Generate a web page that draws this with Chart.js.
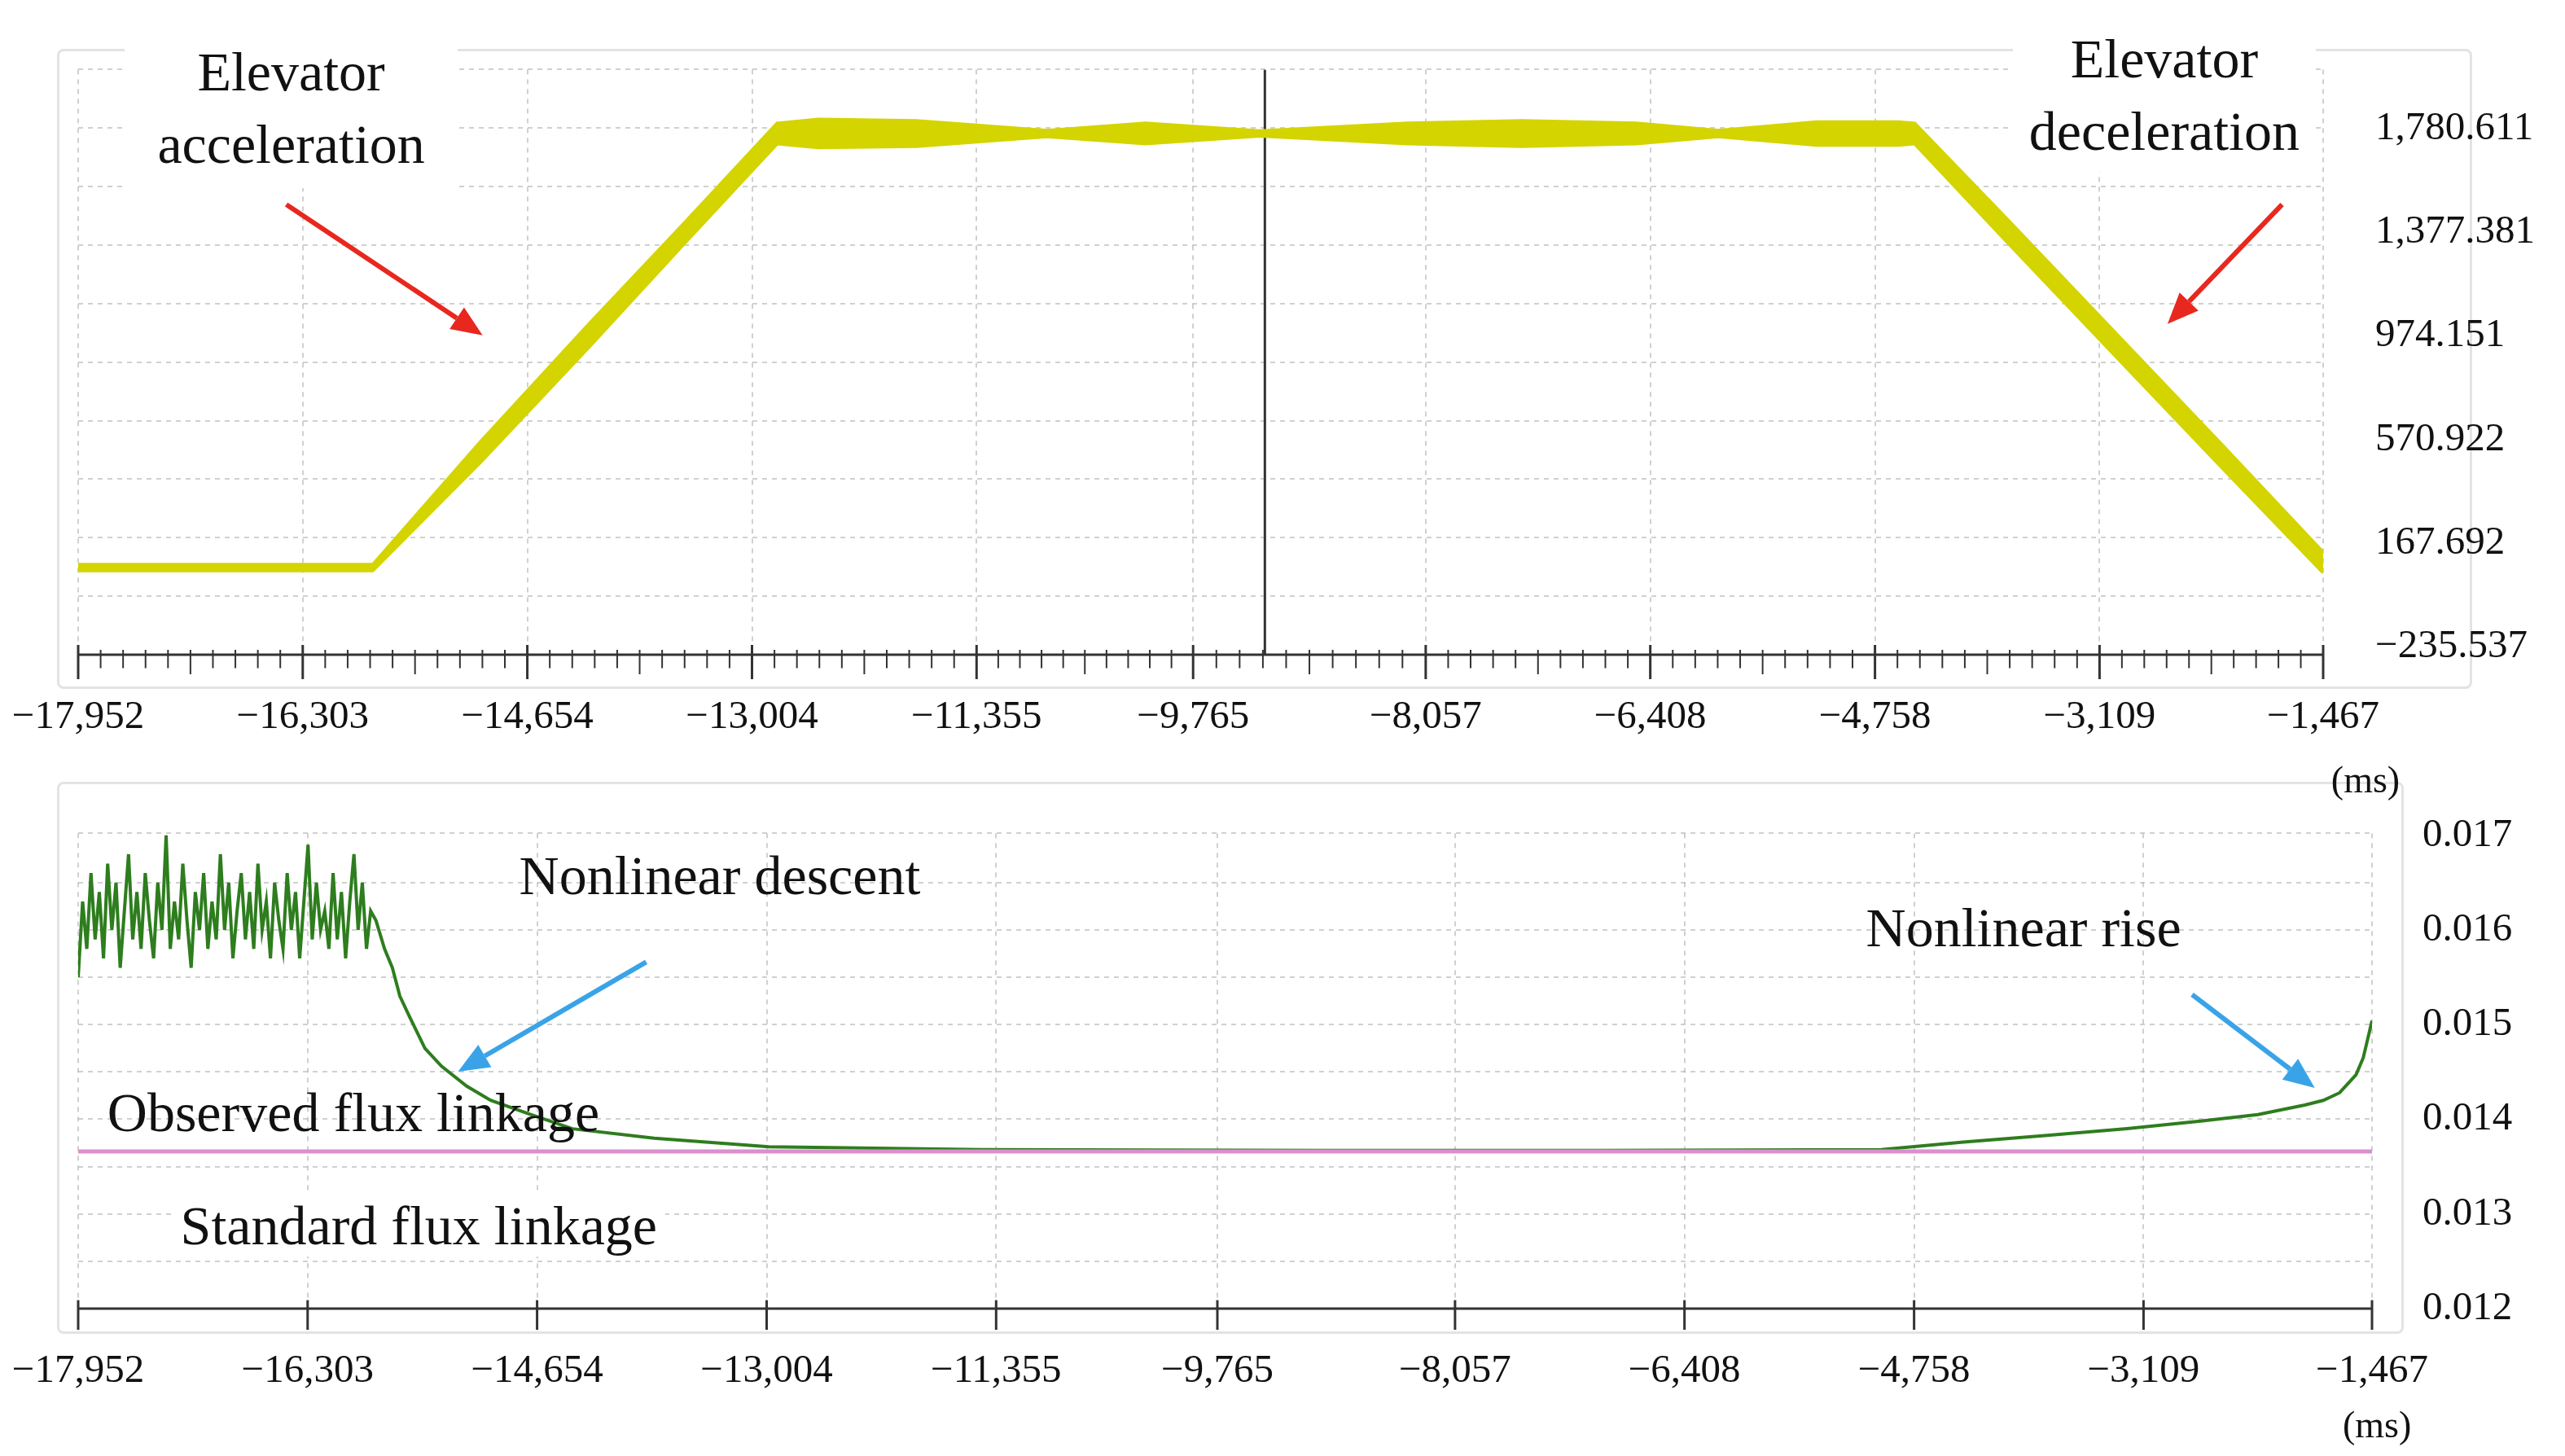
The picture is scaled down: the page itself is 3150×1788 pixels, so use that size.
<!DOCTYPE html>
<html><head><meta charset="utf-8">
<script src="https://cdn.jsdelivr.net/npm/chart.js@4.4.1/dist/chart.umd.min.js"></script>
<style>
body{margin:0;background:#fff;width:3150px;height:1788px;overflow:hidden;position:relative;font-family:"Liberation Serif",serif}
.c{position:absolute;left:0}
.t{position:absolute;font-size:68px;color:#111;line-height:1;white-space:nowrap;text-align:center}
.panel{position:absolute;border:3px solid #e3e3e3;border-radius:8px}
svg{position:absolute;left:0;top:0}
</style></head><body>
<div class="panel" style="left:70px;top:60px;width:2960px;height:780px"></div>
<div class="panel" style="left:70px;top:960px;width:2876px;height:672px"></div>
<div class="c" style="top:0;width:3150px;height:960px"><canvas id="c1"></canvas></div>
<div class="c" style="top:940px;width:3150px;height:848px"><canvas id="c2"></canvas></div>
<svg width="3150" height="1788" id="ov"></svg>
<script>
// ---------- data ----------
const xTickVals=[-17952,-16303,-14654,-13004,-11355,-9765,-8057,-6408,-4758,-3109,-1467];
const xTickLabels=["\u221217,952","\u221216,303","\u221214,654","\u221213,004","\u221211,355","\u22129,765","\u22128,057","\u22126,408","\u22124,758","\u22123,109","\u22121,467"];
const yTopTickVals=[1780.611,1377.381,974.151,570.922,167.692,-235.537];
const yTopTickLabels=["1,780.611","1,377.381","974.151","570.922","167.692","\u2212235.537"];
const yBotTickVals=[0.017,0.016,0.015,0.014,0.013,0.012];
const yBotTickLabels=["0.017","0.016","0.015","0.014","0.013","0.012"];
// speed band (top)
const speedT=[-17952,-16800,-15789,-15000,-14200,-13500,-12820,-12519,-11798,-10836,-10115,-9274,-8192,-7350,-6509,-5908,-5187,-4586,-4466,-3800,-3000,-2200,-1467];
const speedUpper=[84,84,84,561,1021,1414,1802,1817,1812,1774,1802,1772,1802,1812,1802,1774,1807,1807,1802,1436,990,545,132];
const speedLower=[60,60,60,481,931,1334,1722,1707,1712,1750,1722,1752,1722,1712,1722,1750,1717,1717,1722,1346,900,455,52];
const cursorX=-9238;
// flux linkage (bottom)
const fluxT=[-17952,-17920,-17890,-17860,-17830,-17800,-17770,-17740,-17710,-17680,-17650,-17620,-17590,-17560,-17530,-17500,-17470,-17440,-17410,-17380,-17350,-17320,-17290,-17260,-17230,-17200,-17170,-17140,-17110,-17080,-17050,-17020,-16990,-16960,-16930,-16900,-16870,-16840,-16810,-16780,-16750,-16720,-16690,-16660,-16630,-16600,-16570,-16540,-16510,-16480,-16450,-16420,-16390,-16360,-16330,-16300,-16270,-16240,-16210,-16180,-16150,-16120,-16090,-16060,-16030,-16000,-15970,-15940,-15910,-15880,-15850,-15812,-15750,-15694,-15640,-15576,-15460,-15341,-15160,-14988,-14700,-14400,-13812,-12989,-11460,-9000,-7000,-4993,-4404,-3800,-3228,-2700,-2288,-1950,-1817,-1700,-1582,-1530,-1467];
const fluxObs=[0.0155,0.0163,0.0158,0.0166,0.0159,0.0164,0.0157,0.0167,0.0160,0.0165,0.0156,0.0162,0.0168,0.0159,0.0164,0.0158,0.0166,0.0161,0.0157,0.0165,0.0160,0.0170,0.0158,0.0163,0.0159,0.0167,0.0161,0.0156,0.0164,0.0160,0.0166,0.0158,0.0163,0.0159,0.0168,0.0160,0.0165,0.0157,0.0162,0.0166,0.0159,0.0164,0.0158,0.0167,0.0160,0.0163,0.0157,0.0165,0.0161,0.0158,0.0166,0.0160,0.0164,0.0157,0.0163,0.0169,0.0159,0.0165,0.0160,0.0162,0.0158,0.0166,0.0159,0.0164,0.0157,0.0163,0.0168,0.0160,0.0165,0.0158,0.0162,0.0161,0.0158,0.0156,0.0153,0.0151,0.01475,0.01456,0.01435,0.0142,0.01405,0.0139,0.0138,0.01371,0.01368,0.01367,0.01367,0.01368,0.01376,0.01383,0.0139,0.01398,0.01405,0.01415,0.0142,0.01428,0.01447,0.01465,0.01504];
const fluxStd=0.01366;

// ---------- helpers ----------
Chart.defaults.font.family='Liberation Serif';
const FONT={family:'Liberation Serif',size:49};
const GRID='rgba(170,170,170,0.55)';
function ticksPlugin(id,minor,len){return{id:id,afterDraw(ch){const x=ch.scales.x,a=ch.chartArea,g=ch.ctx;g.save();g.strokeStyle='#333';g.lineWidth=3;
 g.beginPath();g.moveTo(a.left,a.bottom);g.lineTo(a.right,a.bottom);g.stroke();
 for(let i=0;i<xTickVals.length;i++){const p=x.getPixelForValue(xTickVals[i]);g.beginPath();g.moveTo(p,a.bottom-len*0.4);g.lineTo(p,a.bottom+len);g.stroke();
  if(minor&&i<xTickVals.length-1){const q=x.getPixelForValue(xTickVals[i+1]);g.lineWidth=2;for(let k=1;k<10;k++){const m=p+(q-p)*k/10;g.beginPath();g.moveTo(m,a.bottom-6);g.lineTo(m,a.bottom+(k==5?len*0.8:len*0.55));g.stroke();}g.lineWidth=3;}}
 g.restore();}};}
function xAxis(min,max,h){return{type:'linear',min:min,max:max,afterBuildTicks(s){s.ticks=xTickVals.map(v=>({value:v}));},
 ticks:{font:FONT,color:'#111',padding:48,maxRotation:0,autoSkip:false,callback:(v,i)=>xTickLabels[i]},
 grid:{color:GRID,lineWidth:2,drawTicks:false,tickBorderDash:[6,6]},border:{display:false,dash:[6,6]},
 afterFit(s){s.height=h;s.paddingLeft=0;s.paddingRight=0;}};}
function yAxis(min,max,vals,labels,w,pad){return{position:'right',min:min,max:max,afterBuildTicks(s){s.ticks=vals.map(v=>({value:v}));},
 ticks:{font:FONT,color:'#111',padding:pad,callback:(v,i)=>labels[i]},grid:{display:false},border:{display:false},afterFit(s){s.width=w;}};}
function gridAxis(min,max,step){return{display:true,position:'left',min:min,max:max,ticks:{display:false,stepSize:step},grid:{color:GRID,lineWidth:2,drawTicks:false},border:{display:false,dash:[6,6]},afterFit(s){s.width=0;}};}

// ---------- top chart ----------
const TMIN=-267,TMAX=2011;
new Chart(document.getElementById('c1'),{type:'line',
 data:{datasets:[
  {data:speedT.map((t,i)=>({x:t,y:speedUpper[i]})),borderColor:'#d4d400',backgroundColor:'#d4d400',borderWidth:4,pointRadius:0,fill:'+1',yAxisID:'y'},
  {data:speedT.map((t,i)=>({x:t,y:speedLower[i]})),borderColor:'#d4d400',borderWidth:4,pointRadius:0,fill:false,yAxisID:'y'},
  {data:[{x:cursorX,y:TMIN},{x:cursorX,y:TMAX}],borderColor:'#333',borderWidth:3,pointRadius:0,yAxisID:'y'}]},
 options:{responsive:true,maintainAspectRatio:false,animation:false,layout:{padding:{left:96,top:60,right:0,bottom:0}},
  plugins:{legend:{display:false},tooltip:{enabled:false}},
  scales:{x:xAxis(-17952,-1467,156),y:yAxis(TMIN,TMAX,yTopTickVals,yTopTickLabels,297,56),g:gridAxis(TMIN,TMAX,225)}},
 plugins:[ticksPlugin('tk1',true,30)]});

// ---------- bottom chart ----------
new Chart(document.getElementById('c2'),{type:'line',
 data:{datasets:[
  {data:[{x:-17952,y:fluxStd},{x:-1467,y:fluxStd}],borderColor:'#d98fd0',borderWidth:5,pointRadius:0,yAxisID:'y'},
  {data:fluxT.map((t,i)=>({x:t,y:fluxObs[i]})),borderColor:'#2e7d1e',borderWidth:4,pointRadius:0,yAxisID:'y'}]},
 options:{responsive:true,maintainAspectRatio:false,animation:false,layout:{padding:{left:96,top:0,right:0,bottom:0}},
  plugins:{legend:{display:false},tooltip:{enabled:false}},
  scales:{x:xAxis(-17952,-1467,181),y:yAxis(0.012,0.01702,yBotTickVals,yBotTickLabels,237,54),g:gridAxis(0.012,0.01702,0.0005)}},
 plugins:[ticksPlugin('tk2',false,26)]});

// ---------- annotations (positions in reference display units) ----------
const S=2.009,ov=document.getElementById('ov');
function text(html,cx,cy,bg,size){const d=document.createElement('div');d.className='t';d.innerHTML=html;d.style.fontSize=(size||68)+'px';
 if(bg)d.style.background='#fff';document.body.appendChild(d);const r=d.getBoundingClientRect();d.style.left=(cx*S-r.width/2)+'px';d.style.top=(cy*S-r.height/2)+'px';}
function arrow(x1,y1,x2,y2,col){x1*=S;y1*=S;x2*=S;y2*=S;const a=Math.atan2(y2-y1,x2-x1),L=38,W=16;
 const bx=x2-L*Math.cos(a),by=y2-L*Math.sin(a);
 ov.innerHTML+=`<line x1="${x1}" y1="${y1}" x2="${bx}" y2="${by}" stroke="${col}" stroke-width="6"/>`+
 `<polygon points="${x2},${y2} ${bx+W*Math.sin(a)},${by-W*Math.cos(a)} ${bx-W*Math.sin(a)},${by+W*Math.cos(a)}" fill="${col}"/>`;}
text('<div style="padding:10px 40px;line-height:1.3">Elevator<br>acceleration</div>',178,66,true);
text('<div style="padding:6px 20px;line-height:1.3">Elevator<br>deceleration</div>',1323,58,true);
text('Nonlinear descent',440,535,false);
text('Nonlinear rise',1237,567,false);
text('Observed flux linkage',216,680,false);
text('<div style="padding:4px 10px">Standard flux linkage</div>',256,749,true);
text('(ms)',1446,477,false,46);
text('(ms)',1453,871,false,46);
arrow(175,125,295,205,'#e8281e');
arrow(1395,125,1325,198,'#e8281e');
arrow(395,588,280,655,'#3aa3e8');
arrow(1340,608,1415,665,'#3aa3e8');
</script></body></html>
